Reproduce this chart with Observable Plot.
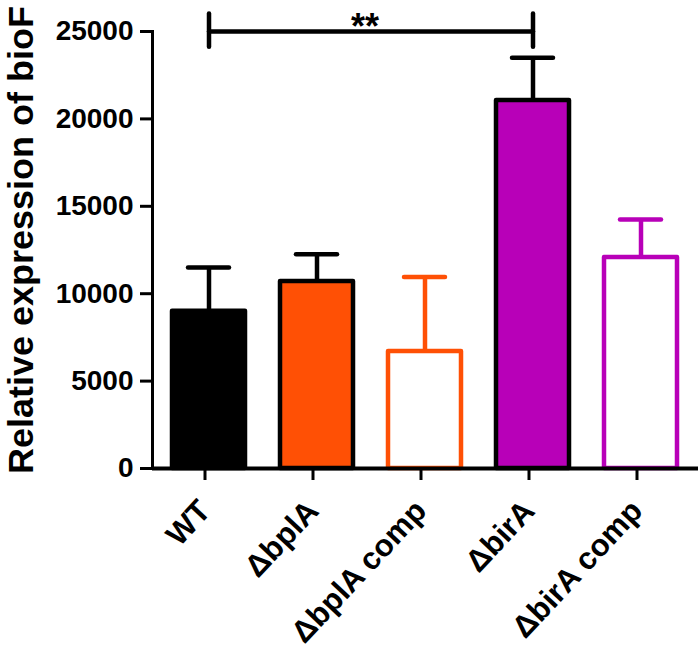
<!DOCTYPE html>
<html>
<head>
<meta charset="utf-8">
<script src="https://cdn.jsdelivr.net/npm/d3@7"></script>
<script src="https://cdn.jsdelivr.net/npm/@observablehq/plot@0.6"></script>
<style>
  html, body { margin: 0; padding: 0; background: #fff; }
  #chart svg { display: block; }
</style>
</head>
<body>
<div id="chart"></div>
<script>
// ---- data ----
const categories = ["WT", "ΔbplA", "ΔbplA comp", "ΔbirA", "ΔbirA comp"];
const means      = [9000, 10700, 6700, 21050, 12070];
const errTops    = [11500, 12250, 10950, 23500, 14250];
const colors     = ["#000000", "#ff5005", "#ff5005", "#b800b8", "#b800b8"];
const filled     = [true, true, false, true, false];
const yTicks     = [0, 5000, 10000, 15000, 20000, 25000];
const yTitle     = "Relative expression of bioF";
const sigPair    = ["WT", "ΔbirA"];
const sigLevel   = 25000;
const sigCapLow  = 24100;
const sigCapHigh = 26000;
const sigLabel   = "**";
const sigLabelY  = 25250;

const data = categories.map((c, i) => ({
  cat: c, mean: means[i], hi: errTops[i], color: colors[i], filled: filled[i]
}));
const filledData = data.filter(d => d.filled);
const hollowData = data.filter(d => !d.filled);
const sigLine = sigPair.map(c => ({cat: c, y: sigLevel}));

const font = "'Liberation Sans', Arial, sans-serif";

const chart = Plot.plot({
  width: 700,
  height: 653,
  marginLeft: 152,
  marginRight: 2,
  marginTop: 31,
  marginBottom: 185,
  style: {fontFamily: font, fontWeight: "bold", background: "#fff", color: "#000", overflow: "visible"},
  x: {domain: categories, paddingInner: 0.32, paddingOuter: 0.165, label: null},
  y: {domain: [0, 25000], label: null},
  marks: [
    // error bars (upper only)
    Plot.ruleX(data, {x: "cat", y1: "mean", y2: "hi", stroke: d => d.filled ? "#000" : d.color, strokeWidth: 4.5}),
    Plot.tickY(data, {x: "cat", y: "hi", stroke: d => d.filled ? "#000" : d.color, strokeWidth: 4.5, strokeLinecap: "round", insetLeft: 16, insetRight: 16}),
    // bars
    Plot.barY(filledData, {x: "cat", y: "mean", fill: "color", stroke: "#000", strokeWidth: 4.5, strokeLinejoin: "round"}),
    Plot.barY(hollowData, {x: "cat", y: "mean", fill: "#fff", stroke: "color", strokeWidth: 4.5, strokeLinejoin: "round"}),
    // axes lines
    Plot.frame({anchor: "left", strokeWidth: 3}),
    Plot.ruleY([0], {strokeWidth: 4}),
    Plot.axisY({ticks: yTicks, tickFormat: d => String(d), tickSize: 12, tickPadding: 7, fontSize: 28, strokeWidth: 3, label: null}),
    Plot.axisX({tickSize: 12, tickPadding: 25, tickRotate: -47, fontSize: 31, dx: -4, strokeWidth: 3, label: null}),
    // y title
    Plot.text([yTitle], {frameAnchor: "left", textAnchor: "middle", lineAnchor: "bottom", rotate: -90, dx: -120, dy: -10, fontSize: 35, fontWeight: "bold", fill: "#000"}),
    // significance bracket
    Plot.line(sigLine, {x: "cat", y: "y", stroke: "#000", strokeWidth: 4.5}),
    Plot.ruleX(sigPair, {x: d => d, y1: sigCapLow, y2: sigCapHigh, stroke: "#000", strokeWidth: 4.5, strokeLinecap: "round"}),
    Plot.text([sigLabel], {x: () => categories[1], y: sigLabelY, dx: 48, fontSize: 36, fontWeight: "bold", fill: "#000"})
  ]
});
d3.select(chart).selectAll("text")
  .filter(function () { return this.textContent === yTitle; })
  .attr("textLength", 468)
  .attr("lengthAdjust", "spacingAndGlyphs");
document.getElementById("chart").appendChild(chart);
</script>
</body>
</html>
